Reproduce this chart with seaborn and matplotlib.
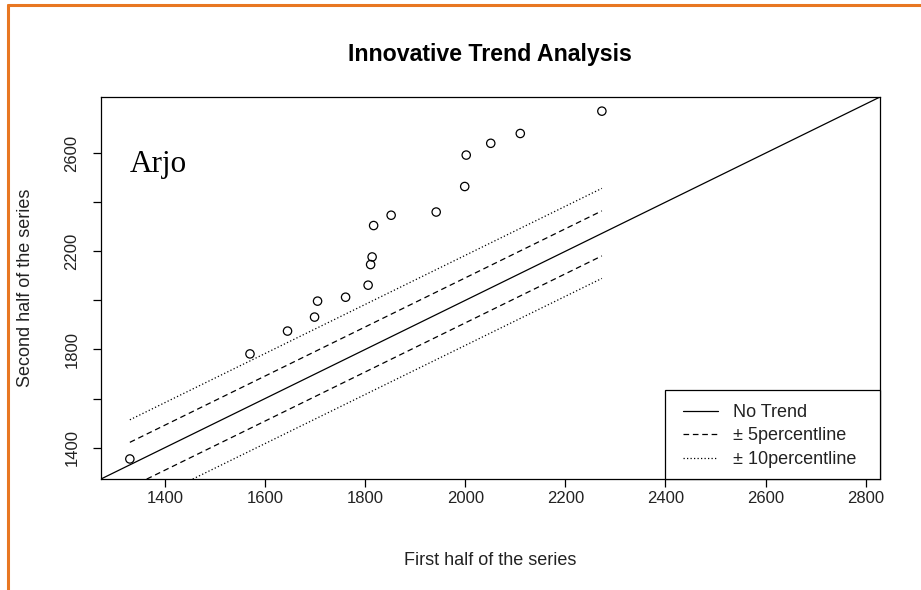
import numpy as np
import pandas as pd
import matplotlib
matplotlib.use("Agg")
import matplotlib.pyplot as plt
from matplotlib.lines import Line2D
from matplotlib.patches import Rectangle
import seaborn as sns

# ---- data ----
first_half = [1330, 1570, 1645, 1699, 1705, 1761, 1806, 1811, 1814, 1817,
              1852, 1942, 1999, 2002, 2051, 2110, 2273]
second_half = [1354, 1782, 1875, 1932, 1997, 2013, 2062, 2146, 2177, 2305,
               2347, 2360, 2464, 2592, 2640, 2680, 2771]
band_percents = [5, 10]
x_ticks = [1400, 1600, 1800, 2000, 2200, 2400, 2600, 2800]
x_tick_labels = ["1400", "1600", "1800", "2000", "2200", "2400", "2600", "2800"]
y_ticks = [1400, 1600, 1800, 2000, 2200, 2400, 2600]
y_tick_labels = ["1400", "", "1800", "", "2200", "", "2600"]
legend_labels = ["No Trend", "\u00b1 5percentline", "\u00b1 10percentline"]
station = "Arjo"
title = "Innovative Trend Analysis"

sns.set_style("white")
plt.rcParams["font.family"] = ["Liberation Sans", "DejaVu Sans"]

fig = plt.figure(figsize=(9.21, 5.90), dpi=100)
ax = fig.add_axes([101 / 921, 1 - 479 / 590, (880 - 101) / 921, (479 - 97) / 590])

df = pd.DataFrame({"first": first_half, "second": second_half})

allv = np.array(first_half + second_half, dtype=float)
rng = allv.max() - allv.min()
lo, hi = allv.min() - 0.04 * rng, allv.max() + 0.04 * rng
ax.set_xlim(lo, hi)
ax.set_ylim(lo, hi)

# no-trend 1:1 line
ax.axline((lo, lo), slope=1, color="black", lw=0.9)

# percent bands around the 1:1 line
mean_first = df["first"].mean()
styles = {5: (0, (4.5, 3.0)), 10: (0, (1.0, 1.8))}
for p in band_percents:
    off = p / 100.0 * mean_first
    for sgn in (1, -1):
        band = pd.DataFrame({"x": df["first"], "y": df["first"] + sgn * off})
        sns.lineplot(data=band, x="x", y="y", ax=ax, color="black", lw=0.9,
                     linestyle=styles[p], sort=True, estimator=None)

sns.scatterplot(data=df, x="first", y="second", ax=ax, marker="o", s=36,
                facecolor="none", edgecolor="black", linewidth=0.9, zorder=5)

for s in ax.spines.values():
    s.set_visible(True)
    s.set_color("black")
    s.set_linewidth(0.9)

ax.set_xticks(x_ticks)
ax.set_xticklabels(x_tick_labels)
ax.set_yticks(y_ticks)
ax.set_yticklabels(y_tick_labels, rotation=90, va="center")
ax.tick_params(axis="both", which="major", direction="out", length=5.5,
               width=0.9, color="black", labelsize=12, labelcolor="#222222",
               bottom=True, left=True)
ax.tick_params(axis="x", pad=3)
ax.tick_params(axis="y", pad=10)

ax.set_xlabel("First half of the series", fontsize=13, color="#222222", labelpad=33)
ax.set_ylabel("Second half of the series", fontsize=13, color="#222222", labelpad=22)

ax.text(0.037, 0.822, station, transform=ax.transAxes, ha="left", va="center",
        fontsize=22.5, family=["Liberation Serif", "DejaVu Serif"], color="black")

fig.text(490 / 921, 1 - 55 / 590, title, ha="center", va="center",
         fontsize=16.7, fontweight="bold", color="black")

# legend box (bottom-right, as in R's legend("bottomright"))
ax.add_patch(Rectangle((0.724, 0.0), 0.276, 0.233, transform=ax.transAxes,
                       facecolor="white", edgecolor="black", lw=0.9, zorder=6,
                       clip_on=False))
handles = [Line2D([0], [0], color="black", lw=0.9, linestyle="-"),
           Line2D([0], [0], color="black", lw=0.9, linestyle=styles[5]),
           Line2D([0], [0], color="black", lw=0.9, linestyle=styles[10])]
leg = ax.legend(handles, legend_labels, loc="center left",
                bbox_to_anchor=(0.747, 0.1126), fontsize=13,
                frameon=False, borderaxespad=0, borderpad=0,
                handlelength=1.95, handletextpad=0.85, labelspacing=0.36)
leg.set_zorder(7)
for t in leg.get_texts():
    t.set_color("#222222")

# orange frame on top and left
orange = "#E87722"
fig.add_artist(Line2D([8 / 921, 1.0], [1 - 5 / 590, 1 - 5 / 590],
                      transform=fig.transFigure, color=orange, lw=2.2))
fig.add_artist(Line2D([8 / 921, 8 / 921], [0.0, 1 - 5 / 590],
                      transform=fig.transFigure, color=orange, lw=2.2))

fig.savefig("out.png", dpi=100)
